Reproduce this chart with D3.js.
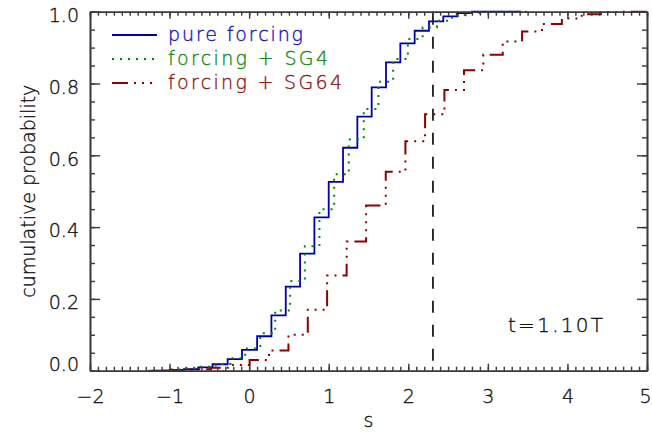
<!DOCTYPE html>
<html><head><meta charset="utf-8">
<script src="https://cdn.jsdelivr.net/npm/d3@7/dist/d3.min.js"></script>
<style>
html,body{margin:0;padding:0;background:#fff;}
svg text{font-family:"DejaVu Sans","Liberation Sans",sans-serif;font-weight:200;stroke-width:0.35px;}
</style></head>
<body><svg id="c" width="652" height="432"></svg>
<script>
// ---- data ----
const xTicks = [-2, -1, 0, 1, 2, 3, 4, 5];
const xTickLabels = ["\u22122", "\u22121", "0", "1", "2", "3", "4", "5"];
const yTicks = [0, 0.2, 0.4, 0.6, 0.8, 1.0];
const yTickLabels = ["0.0", "0.2", "0.4", "0.6", "0.8", "1.0"];

const seriesNames = ["pure forcing", "forcing + SG4", "forcing + SG64"];

// pure forcing: step edges (s) and cumulative probability after each edge
const pureS = [-1.24, -1.00, -0.82, -0.64, -0.46, -0.27, -0.09, 0.10, 0.28, 0.46, 0.64, 0.82, 1.00, 1.18, 1.36, 1.54, 1.72, 1.90, 2.08, 2.26, 2.44, 2.62, 2.80, 3.42];
const pureP = [0, 0.002, 0.004, 0.009, 0.018, 0.032, 0.058, 0.096, 0.154, 0.234, 0.326, 0.427, 0.526, 0.621, 0.708, 0.789, 0.859, 0.912, 0.947, 0.973, 0.987, 0.996, 1.0, 1.0];

// forcing + SG4
const sg4S = [-1.27, -0.98, -0.79, -0.61, -0.42, -0.235, -0.05, 0.14, 0.327, 0.515, 0.70, 0.883, 1.068, 1.252, 1.44, 1.625, 1.81, 1.995, 2.18, 2.36, 2.55, 2.74, 2.92, 3.50];
const sg4P = [0, 0.003, 0.006, 0.011, 0.019, 0.035, 0.062, 0.104, 0.168, 0.250, 0.347, 0.450, 0.547, 0.644, 0.729, 0.805, 0.868, 0.924, 0.956, 0.975, 0.990, 0.997, 1.0, 1.0];

// forcing + SG64
const sg64S = [-1.10, -0.97, -0.73, -0.48, -0.24, 0.006, 0.25, 0.494, 0.737, 0.98, 1.225, 1.47, 1.717, 1.964, 2.211, 2.454, 2.70, 2.943, 3.187, 3.43, 3.68, 3.93, 4.18, 4.42, 4.66, 5.0];
const sg64P = [0, 0.002, 0.004, 0.008, 0.016, 0.030, 0.056, 0.100, 0.170, 0.265, 0.360, 0.460, 0.554, 0.639, 0.714, 0.782, 0.837, 0.880, 0.917, 0.945, 0.966, 0.981, 0.993, 0.999, 1.0, 1.0];

const markerS = 2.31;           // dashed vertical line
const annotation = "t=1.10T";

// ---- drawing ----
const svg = d3.select("#c");
const x = d3.scaleLinear().domain([-2, 5]).range([90, 647]);
const y = d3.scaleLinear().domain([0, 1]).range([370.7, 11.7]);
const axisColor = "#3a3a3a";
const textColor = "#111";

const styles = [
  {color: "#0000a8", text: "#1414b4", dash: null, w: 1.8},
  {color: "#008800", text: "#138a13", dash: "2,6", w: 2},
  {color: "#8b0000", text: "#8a1818", dash: "16,6,2,6,2,6,2,6", w: 2}
];
const seriesData = [[pureS, pureP], [sg4S, sg4P], [sg64S, sg64P]];

const line = d3.line().x(d => x(d[0])).y(d => y(d[1])).curve(d3.curveStepAfter);

// dashed vertical marker
svg.append("line")
  .attr("x1", x(markerS)).attr("x2", x(markerS))
  .attr("y1", y(0.997)).attr("y2", y(0))
  .attr("stroke", "#000").attr("stroke-width", 1.6)
  .attr("stroke-dasharray", "12,12");

seriesData.forEach((sd, i) => {
  const pts = sd[0].map((s, k) => [s, sd[1][k]]);
  const p = svg.append("path").attr("d", line(pts))
    .attr("fill", "none").attr("stroke", styles[i].color)
    .attr("stroke-width", styles[i].w);
  if (styles[i].dash) p.attr("stroke-dasharray", styles[i].dash);
});

// axes
const minorX = d3.range(-20, 51).map(v => v / 10);
const minorY = d3.range(0, 21).map(v => v / 20);
function styleAxis(g) {
  g.select(".domain").attr("stroke", axisColor).attr("stroke-width", 1.6);
  g.selectAll(".tick line").attr("stroke", axisColor).attr("stroke-width", 1.4);
}
const fmtX = (d) => xTickLabels[xTicks.indexOf(d)];
const fmtY = (d) => yTickLabels[yTicks.indexOf(d)];

// bottom
svg.append("g").attr("transform", `translate(0,${y(0)})`)
  .call(d3.axisBottom(x).tickValues(minorX).tickSize(-4).tickFormat("").tickSizeOuter(0)).call(styleAxis);
const gb = svg.append("g").attr("transform", `translate(0,${y(0)})`)
  .call(d3.axisBottom(x).tickValues(xTicks).tickSize(-7).tickFormat(fmtX).tickPadding(19).tickSizeOuter(0)).call(styleAxis);
gb.selectAll("text").attr("font-size", 19).attr("fill", textColor).attr("stroke", textColor)
  .attr("dx", d => d === 5 ? "-0.1em" : null);
// top
svg.append("g").attr("transform", `translate(0,${y(1)})`)
  .call(d3.axisTop(x).tickValues(minorX).tickSize(-4).tickFormat("").tickSizeOuter(0)).call(styleAxis);
svg.append("g").attr("transform", `translate(0,${y(1)})`)
  .call(d3.axisTop(x).tickValues(xTicks).tickSize(-7).tickFormat("").tickSizeOuter(0)).call(styleAxis);
// left
svg.append("g").attr("transform", `translate(${x(-2)},0)`)
  .call(d3.axisLeft(y).tickValues(minorY).tickSize(-5).tickFormat("").tickSizeOuter(0)).call(styleAxis);
const gl = svg.append("g").attr("transform", `translate(${x(-2)},0)`)
  .call(d3.axisLeft(y).tickValues(yTicks).tickSize(-10).tickFormat(fmtY).tickPadding(11).tickSizeOuter(0)).call(styleAxis);
gl.selectAll("text").attr("font-size", 19).attr("fill", textColor).attr("stroke", textColor)
  .attr("dy", d => d === 0 ? "-0.02em" : "0.52em");
// right
svg.append("g").attr("transform", `translate(${x(5)},0)`)
  .call(d3.axisRight(y).tickValues(minorY).tickSize(-5).tickFormat("").tickSizeOuter(0)).call(styleAxis);
svg.append("g").attr("transform", `translate(${x(5)},0)`)
  .call(d3.axisRight(y).tickValues(yTicks).tickSize(-10).tickFormat("").tickSizeOuter(0)).call(styleAxis);

// axis titles
svg.append("text").attr("x", (x(-2) + x(5)) / 2).attr("y", 432).attr("dy", "-0.25em")
  .attr("text-anchor", "middle").attr("font-size", 19).attr("fill", textColor).attr("stroke", textColor).text("s");
svg.append("text").attr("transform", `translate(28,${(y(0) + y(1)) / 2}) rotate(-90)`)
  .attr("text-anchor", "middle").attr("dy", "0.35em")
  .attr("font-size", 19).attr("fill", textColor).attr("stroke", textColor).text("cumulative probability");

// annotation
svg.append("text").attr("x", 603).attr("y", 325).attr("dy", "0.36em")
  .attr("text-anchor", "end").attr("font-size", 20).attr("fill", textColor).attr("stroke", textColor)
  .attr("textLength", 95).attr("lengthAdjust", "spacing").text(annotation);

// legend
const legRows = [35, 59, 83];
const legWidths = [135, 160, 174];
seriesNames.forEach((name, i) => {
  const l = svg.append("line").attr("x1", 112).attr("x2", 157)
    .attr("y1", legRows[i]).attr("y2", legRows[i])
    .attr("stroke", styles[i].color).attr("stroke-width", styles[i].w);
  if (styles[i].dash) l.attr("stroke-dasharray", styles[i].dash);
  svg.append("text").attr("x", 168).attr("y", legRows[i]).attr("dy", "0.3em")
    .attr("font-size", 19).attr("fill", styles[i].text).attr("stroke", styles[i].text)
    .attr("textLength", legWidths[i]).attr("lengthAdjust", "spacing").text(name);
});
</script></body></html>
